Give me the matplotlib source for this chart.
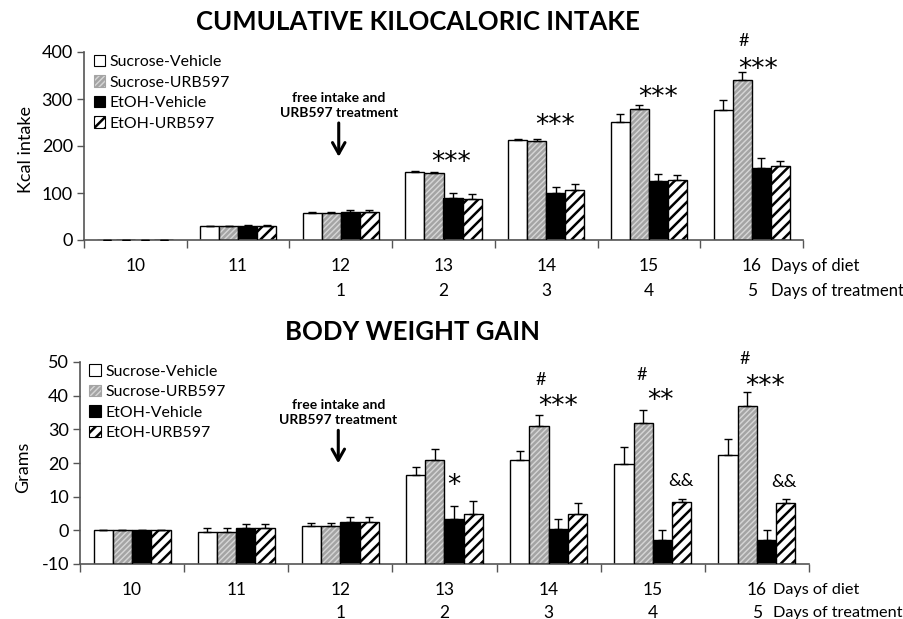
import matplotlib
matplotlib.use("Agg")
import matplotlib.pyplot as plt
import numpy as np
from matplotlib.patches import Patch
from matplotlib.transforms import offset_copy

plt.rcParams['font.family'] = ['Lato', 'DejaVu Sans']
plt.rcParams['hatch.linewidth'] = 1.8
plt.rcParams['axes.unicode_minus'] = False

days_diet = ["10", "11", "12", "13", "14", "15", "16"]
days_treat = ["", "", "1", "2", "3", "4", "5"]
groups = ["Sucrose-Vehicle", "Sucrose-URB597", "EtOH-Vehicle", "EtOH-URB597"]

# Cumulative kilocaloric intake
kcal_suc_veh = [0, 29, 58, 145, 213, 251, 277]
kcal_suc_urb = [0, 29, 58, 143, 211, 279, 340]
kcal_eth_veh = [0, 30, 60, 90, 100, 126, 153]
kcal_eth_urb = [0, 30, 60, 88, 106, 128, 157]
kcal_err_suc_veh = [0, 1, 1, 2, 2, 17, 20]
kcal_err_suc_urb = [0, 1, 1, 2, 4, 9, 17]
kcal_err_eth_veh = [0, 2, 3, 10, 13, 14, 21]
kcal_err_eth_urb = [0, 2, 3, 10, 13, 10, 11]

# Body weight gain
bw_suc_veh = [0, -0.4, 1.3, 16.3, 21.0, 19.8, 22.5]
bw_suc_urb = [0, -0.4, 1.3, 20.8, 31.1, 32.0, 37.0]
bw_eth_veh = [0, 0.8, 2.5, 3.5, 0.3, -3.0, -3.0]
bw_eth_urb = [0, 0.8, 2.5, 5.0, 5.0, 8.4, 8.0]
bw_err_suc_veh = [0, 1.0, 1.0, 2.4, 2.7, 4.9, 4.7]
bw_err_suc_urb = [0, 1.0, 1.0, 3.5, 3.3, 3.8, 4.2]
bw_err_eth_veh = [0, 1.0, 1.5, 3.6, 3.2, 3.0, 3.0]
bw_err_eth_urb = [0, 1.0, 1.5, 3.6, 3.0, 1.0, 1.3]

# significance marks: (x position in category units, y value, text)
kcal_marks = [(3.57, 181, "***"), (4.59, 260, "***"), (5.59, 319, "***"),
              (6.56, 379, "***"), (6.42, 426, "#")]
bw_marks = [(3.59, 15.4, "*"), (4.59, 39, "***"), (4.42, 45, "#"),
            (5.57, 40.6, "**"), (5.39, 46.6, "#"), (5.77, 15, "&&"),
            (6.58, 45, "***"), (6.38, 51.3, "#"), (6.76, 14.8, "&&")]

styles = [
    dict(facecolor="white", hatch=None, hatchcolor=None),
    dict(facecolor="#d6d6d6", hatch="//////", hatchcolor="#a4a4a4"),
    dict(facecolor="black", hatch=None, hatchcolor=None),
    dict(facecolor="white", hatch="///", hatchcolor="black"),
]

fig = plt.figure(figsize=(9.04, 6.19), dpi=100)
ax1 = fig.add_axes([84/904, 1-240/619, 719/904, 188/619])
ax2 = fig.add_axes([80/904, 1-564/619, 729/904, 202/619])

W = 0.185
offs = [-1.5*W, -0.5*W, 0.5*W, 1.5*W]


def mark(ax, x, y, text):
    if "*" in text:
        fs, fam, c = 19, "DejaVu Sans", 0.56
    else:
        fs, fam, c = 13, "Lato", 0.36
    ax.annotate(text, xy=(x, y), xytext=(0, -c*fs), textcoords="offset points",
                ha="center", va="baseline", fontsize=fs, family=fam,
                annotation_clip=False)


def draw_panel(ax, series, errs, base, ylim, yticks, marks, arrow_y, text_y,
               row1_pad, row2_pad, lab_x, lab_fs):
    x = np.arange(len(days_diet)) + 0.5
    for k, (vals, err, st) in enumerate(zip(series, errs, styles)):
        xs = x + offs[k]
        heights = np.array(vals) - base
        if st["hatch"]:
            ax.bar(xs, heights, W, bottom=base, color=st["facecolor"],
                   edgecolor=st["hatchcolor"], hatch=st["hatch"], linewidth=0,
                   zorder=2)
            ax.bar(xs, heights, W, bottom=base, fill=False,
                   edgecolor="black", linewidth=1.0, zorder=3)
        else:
            ax.bar(xs, heights, W, bottom=base, color=st["facecolor"],
                   edgecolor="black", linewidth=1.0, zorder=2)
        e = np.array(err)
        ax.errorbar(xs, vals, yerr=[np.zeros_like(e), e], fmt="none",
                    ecolor="black", elinewidth=1.0, capsize=3, capthick=1.0,
                    zorder=4)
    ax.set_xlim(0, len(days_diet))
    ax.set_ylim(*ylim)
    ax.set_yticks(yticks)
    ax.tick_params(axis="y", labelsize=13, length=5, width=1, color="#555555",
                   pad=3)
    ax.set_xticks(np.arange(len(days_diet)+1))
    ax.set_xticklabels([])
    ax.tick_params(axis="x", length=6, width=1, color="#555555")
    for s in ["top", "right"]:
        ax.spines[s].set_visible(False)
    for s in ["left", "bottom"]:
        ax.spines[s].set_color("#555555")
        ax.spines[s].set_linewidth(1.2)
    tr = ax.get_xaxis_transform()
    t1 = offset_copy(tr, fig=fig, x=0, y=-row1_pad, units="points")
    t2 = offset_copy(tr, fig=fig, x=0, y=-row2_pad, units="points")
    for i, (d, t) in enumerate(zip(days_diet, days_treat)):
        ax.text(i + 0.5, 0, d, transform=t1, ha="center", va="center",
                fontsize=12.5)
        if t:
            ax.text(i + 0.5, 0, t, transform=t2, ha="center", va="center",
                    fontsize=12.5)
    ax.text(lab_x, 0, "Days of diet", transform=t1, ha="left", va="center",
            fontsize=lab_fs, clip_on=False)
    ax.text(lab_x, 0, "Days of treatment", transform=t2, ha="left",
            va="center", fontsize=lab_fs, clip_on=False)
    for (mx, my, mt) in marks:
        mark(ax, mx, my, mt)
    ax.annotate("", xy=(2.48, arrow_y[1]), xytext=(2.48, arrow_y[0]),
                arrowprops=dict(arrowstyle="->,head_length=0.8,head_width=0.45",
                                lw=2.2, color="black", shrinkA=0, shrinkB=0))
    ax.text(2.48, text_y, "free intake and\nURB597 treatment", ha="center",
            va="center", fontsize=10, fontweight="bold", linespacing=1.25)
    handles = [Patch(facecolor=st["facecolor"],
                     edgecolor=(st["hatchcolor"] if st["hatch"] else "black"),
                     hatch=st["hatch"], linewidth=0.8) for st in styles]
    ax.legend(handles, groups, loc="upper left",
              bbox_to_anchor=(0.0, 1.035), frameon=False, fontsize=11.4,
              handlelength=0.72, handleheight=0.72, handletextpad=0.3,
              labelspacing=0.4, borderaxespad=0.2)
    return ax


draw_panel(ax1, [kcal_suc_veh, kcal_suc_urb, kcal_eth_veh, kcal_eth_urb],
           [kcal_err_suc_veh, kcal_err_suc_urb, kcal_err_eth_veh, kcal_err_eth_urb],
           0, (0, 400), [0, 100, 200, 300, 400], kcal_marks, (249, 177), 286,
           19, 37, 6.685, 12)
ax1.set_ylabel("Kcal intake", fontsize=13)
ax1.yaxis.set_label_coords(-0.069, 0.479)

draw_panel(ax2, [bw_suc_veh, bw_suc_urb, bw_eth_veh, bw_eth_urb],
           [bw_err_suc_veh, bw_err_suc_urb, bw_err_eth_veh, bw_err_eth_urb],
           -10, (-10, 50), [-10, 0, 10, 20, 30, 40, 50], bw_marks, (29.7, 19.9),
           35, 19, 35, 6.655, 11.7)
ax2.set_ylabel("Grams", fontsize=13)
ax2.yaxis.set_label_coords(-0.067, 0.48)

fig.text(418/904, 1-22/619, "CUMULATIVE KILOCALORIC INTAKE", ha="center",
         va="center", fontsize=18.5, fontweight="bold")
fig.text(413/904, 1-332/619, "BODY WEIGHT GAIN", ha="center",
         va="center", fontsize=18.5, fontweight="bold")

fig.savefig("out.png", dpi=100, facecolor="white")
